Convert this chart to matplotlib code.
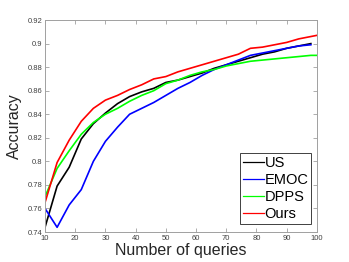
import numpy as np
import matplotlib
matplotlib.use('Agg')
import matplotlib.pyplot as plt

plt.rcParams['font.family'] = ['Liberation Sans', 'DejaVu Sans']

#query counts
queries = [10, 14, 18, 22, 26, 30, 34, 38, 42, 46, 50, 54, 58, 62, 66, 70, 74, 78, 82, 86, 90, 94, 98]
queries_full = queries + [100]

#accuracy per method
acc_us = [0.744, 0.779, 0.795, 0.819, 0.832, 0.841, 0.849, 0.855, 0.859, 0.862, 0.867, 0.869,
          0.872, 0.875, 0.879, 0.882, 0.885, 0.888, 0.891, 0.893, 0.896, 0.898, 0.900]
acc_emoc = [0.760, 0.744, 0.763, 0.776, 0.800, 0.817, 0.829, 0.840, 0.845, 0.850, 0.856, 0.862,
            0.867, 0.873, 0.878, 0.882, 0.886, 0.890, 0.892, 0.894, 0.896, 0.898, 0.899]
acc_dpps = [0.770, 0.794, 0.809, 0.823, 0.833, 0.840, 0.845, 0.851, 0.856, 0.860, 0.866, 0.869,
            0.873, 0.876, 0.878, 0.881, 0.883, 0.885, 0.886, 0.887, 0.888, 0.889, 0.890, 0.890]
acc_ours = [0.765, 0.799, 0.818, 0.834, 0.845, 0.852, 0.856, 0.861, 0.865, 0.870, 0.872, 0.876,
            0.879, 0.882, 0.885, 0.888, 0.891, 0.896, 0.897, 0.899, 0.901, 0.904, 0.906, 0.907]

labels = ['US', 'EMOC', 'DPPS', 'Ours']
colors = ['#000000', '#0000ff', '#00ff00', '#ff0000']

xticks = np.arange(10, 101, 10)
yticks = np.arange(0.74, 0.921, 0.02)
ytick_labels = ['0.74', '0.76', '0.78', '0.8', '0.82', '0.84', '0.86', '0.88', '0.9', '0.92']

fig = plt.figure(figsize=(3.49, 2.62), dpi=100)
ax = fig.add_axes([0.129, 0.1145, 0.779, 0.809])

ax.plot(queries, acc_us, color=colors[0], linewidth=1.2, label=labels[0])
ax.plot(queries, acc_emoc, color=colors[1], linewidth=1.2, label=labels[1])
ax.plot(queries_full, acc_dpps, color=colors[2], linewidth=1.2, label=labels[2])
ax.plot(queries_full, acc_ours, color=colors[3], linewidth=1.2, label=labels[3])

ax.set_xlim(10, 100)
ax.set_ylim(0.74, 0.92)
ax.set_xticks(xticks)
ax.set_yticks(yticks)
ax.set_yticklabels(ytick_labels)
ax.tick_params(direction='in', length=3, width=0.6, labelsize=5.5, colors='#a0a0a0',
               labelcolor='#404040', top=True, right=True, pad=2)
for s in ax.spines.values():
    s.set_color('#a0a0a0')
    s.set_linewidth(0.7)

ax.set_xlabel('Number of queries', fontsize=11.5, color='#262626', labelpad=1)
ax.set_ylabel('Accuracy', fontsize=11.5, color='#262626', labelpad=4)

leg = ax.legend(loc='lower right', bbox_to_anchor=(0.979, 0.038), borderaxespad=0,
                fontsize=10.5, handlelength=1.45, handletextpad=0.05,
                borderpad=0.2, labelspacing=0.2, fancybox=False, framealpha=1)
leg.get_frame().set_edgecolor('#404040')
leg.get_frame().set_linewidth(0.7)
for h in leg.get_lines():
    h.set_linewidth(0.9)

fig.savefig('out.png', dpi=100)
